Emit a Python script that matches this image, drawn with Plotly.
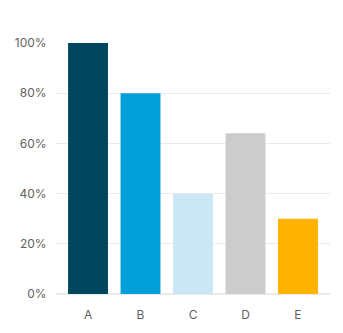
import plotly.graph_objects as go

categories = ["A", "B", "C", "D", "E"]
values = [100, 80, 40, 64, 30]
colors = ["#01465F", "#039FDB", "#CBE7F6", "#CCCCCC", "#FFB300"]
tick_vals = [0, 20, 40, 60, 80, 100]
tick_text = ["0%", "20%", "40%", "60%", "80%", "100%"]

fig = go.Figure(go.Bar(
    x=list(range(len(categories))), y=values,
    marker=dict(color=colors, line=dict(width=0)),
    width=0.76,
))
fig.update_layout(
    width=343, height=333,
    margin=dict(l=56, r=13, t=43, b=39),
    paper_bgcolor="white", plot_bgcolor="white",
    showlegend=False,
    font=dict(family="Inter", size=12, color="#5F5F5F"),
)
fig.update_xaxes(
    range=[-0.61, 4.61], tickvals=list(range(len(categories))), ticktext=categories,
    showgrid=False, zeroline=False, showline=False, automargin=False,
    ticks="outside", ticklen=10, tickcolor="rgba(0,0,0,0)",
)
fig.update_yaxes(
    range=[0, 100], tickvals=tick_vals, ticktext=tick_text,
    showgrid=True, gridcolor="#EBEBEB", gridwidth=1, automargin=False,
    zeroline=True, zerolinecolor="#EBEBEB", showline=False,
    ticks="outside", ticklen=6, tickcolor="rgba(0,0,0,0)",
)
fig.write_html("out.html")
